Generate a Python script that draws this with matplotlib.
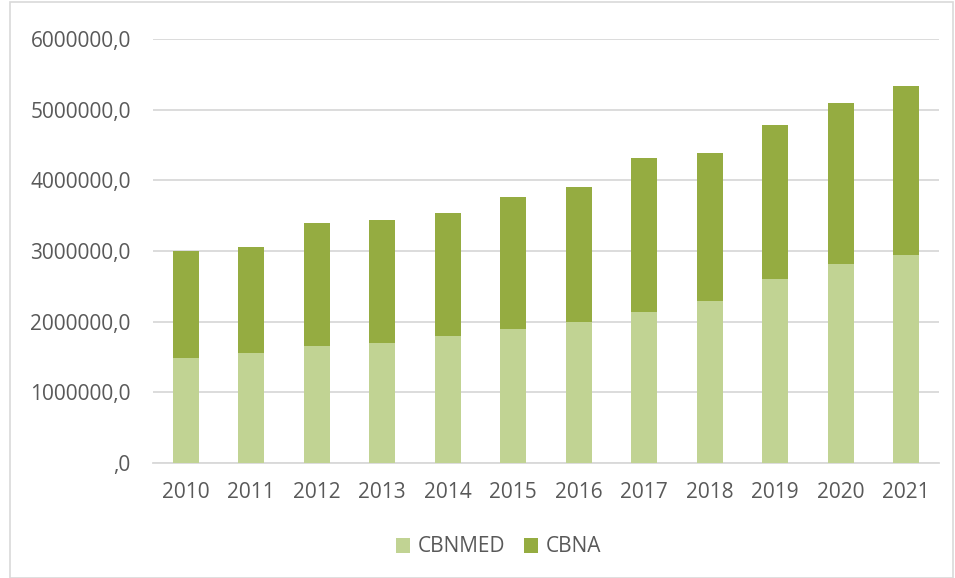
import matplotlib
matplotlib.use("Agg")
import matplotlib.pyplot as plt
from matplotlib.patches import Rectangle
from matplotlib.ticker import FuncFormatter

years = ["2010", "2011", "2012", "2013", "2014", "2015", "2016", "2017", "2018", "2019", "2020", "2021"]
cbnmed = [1490000, 1560000, 1650000, 1700000, 1800000, 1900000, 2000000, 2130000, 2290000, 2610000, 2810000, 2940000]
totals = [3000000, 3060000, 3390000, 3440000, 3540000, 3770000, 3910000, 4310000, 4380000, 4790000, 5090000, 5340000]
cbna = [t - m for t, m in zip(totals, cbnmed)]

plt.rcParams['font.family'] = ['Open Sans', 'DejaVu Sans']
txt = "#595959"

W, H = 955, 578
fig = plt.figure(figsize=(W / 100, H / 100), dpi=100)
ax = fig.add_axes([153 / W, 1 - 463 / H, (939 - 153) / W, (463 - 39) / H])

x = list(range(len(years)))
ax.bar(x, cbnmed, width=0.4, color="#C1D393", label="CBNMED", zorder=3)
ax.bar(x, cbna, width=0.4, bottom=cbnmed, color="#95AC41", label="CBNA", zorder=3)

ax.set_xlim(-0.5, len(years) - 0.5)
ax.set_ylim(0, 6000000)
ax.set_yticks(range(0, 6000001, 1000000))
ax.yaxis.set_major_formatter(FuncFormatter(lambda v, p: ",0" if v == 0 else f"{int(v)},0"))
ax.set_xticks(x)
ax.set_xticklabels(years)
ax.grid(axis="y", color="#D9D9D9", linewidth=1.3, zorder=0)
for s in ["top", "right", "left"]:
    ax.spines[s].set_visible(False)
ax.spines["bottom"].set_color("#D9D9D9")
ax.spines["bottom"].set_linewidth(1.3)
ax.tick_params(axis="both", length=0, colors=txt, labelsize=15)
ax.tick_params(axis="y", pad=16)
ax.tick_params(axis="x", pad=14)

fig.legend(loc="center", bbox_to_anchor=(0.522, 1 - 547 / H), ncol=2, frameon=False,
           fontsize=15, labelcolor=txt, handlelength=0.7, handleheight=0.7,
           handletextpad=0.35, columnspacing=0.9)

fig.patches.append(Rectangle((10 / W, 0), (W - 12) / W, (H - 2) / H, transform=fig.transFigure,
                             fill=False, edgecolor="#D9D9D9", linewidth=1.2))

fig.savefig("out.png", dpi=100)
